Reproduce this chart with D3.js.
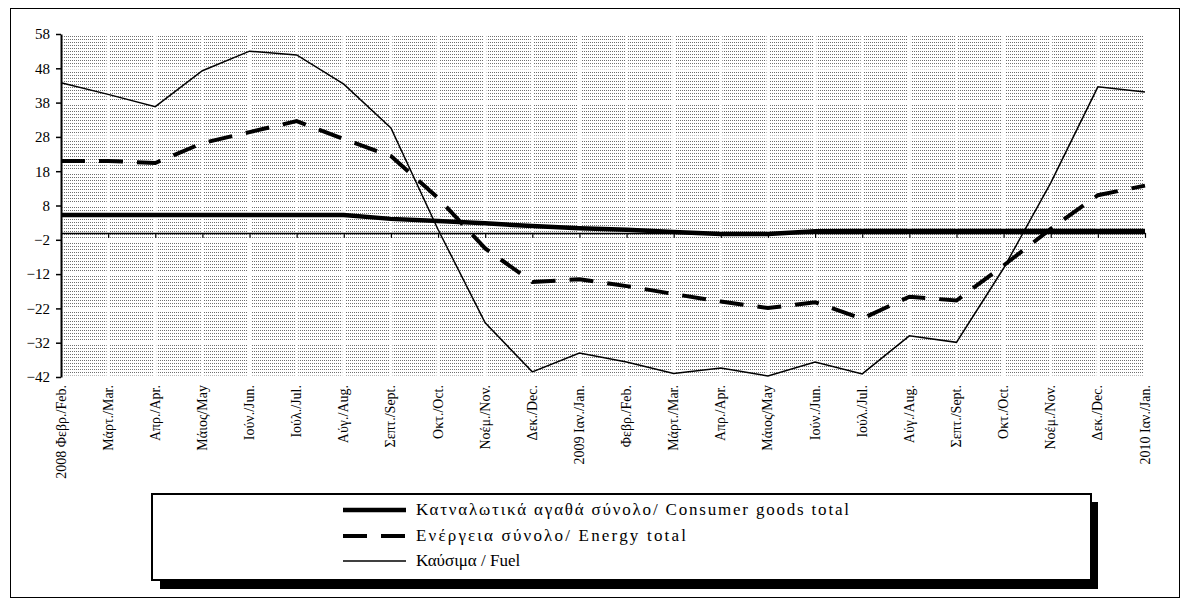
<!DOCTYPE html>
<html><head><meta charset="utf-8">
<script src="https://cdn.jsdelivr.net/npm/d3@7"></script>
<style>html,body{margin:0;padding:0;background:#fff;}svg{display:block;}</style>
</head><body>
<svg id="chart" width="1187" height="605"></svg>
<script>
const categories = ["2008 Φεβρ./Feb.","Μάρτ./Mar.","Απρ./Apr.","Μάιος/May","Ιούν./Jun.","Ιούλ./Jul.","Αύγ./Aug.","Σεπτ./Sept.","Οκτ./Oct.","Νοέμ./Nov.","Δεκ./Dec.","2009 Ιαν./Jan.","Φεβρ./Feb.","Μάρτ./Mar.","Απρ./Apr.","Μάιος/May","Ιούν./Jun.","Ιούλ./Jul.","Αύγ./Aug.","Σεπτ./Sept.","Οκτ./Oct.","Νοέμ./Nov.","Δεκ./Dec.","2010 Ιαν./Jan."];
const consumer = [5.2,5.2,5.2,5.2,5.2,5.2,5.2,4.1,3.5,2.8,2.0,1.4,0.9,0.3,-0.3,-0.3,0.5,0.6,0.6,0.6,0.6,0.6,0.6,0.6];
const energy = [21,21,20.4,26.2,29.4,32.6,27.4,22.4,10.2,-4.5,-14.3,-13.5,-15.5,-17.8,-20,-21.9,-20.2,-25,-18.6,-19.7,-9.5,1.2,11,13.8];
const fuel = [43.8,40.4,36.8,47.3,53,51.9,43.4,30.6,1,-26.2,-40.5,-35,-37.6,-41,-39.4,-41.7,-37.6,-41.1,-30,-31.9,-10.3,14.6,42.6,41.1];
const yTicks = [58,48,38,28,18,8,-2,-12,-22,-32,-42];
const seriesNames = ["Κατναλωτικά αγαθά σύνολο/ Consumer goods total","Ενέργεια σύνολο/ Energy total","Καύσιμα / Fuel"];

const svg = d3.select("#chart");
const serif = "'Liberation Serif','DejaVu Serif',serif";
const L = 61, R = 1145, T = 34, B = 377;

// outer border
svg.append("rect").attr("x",10.5).attr("y",8.5).attr("width",1169).attr("height",589)
  .attr("fill","none").attr("stroke","#000").attr("stroke-width",1);

const idx = d3.range(categories.length);
const x = d3.scalePoint().domain(idx).range([L,R]).padding(0);
const y = d3.scaleLinear().domain([-42,58]).range([B,T]);

// dotted pattern
const defs = svg.append("defs");
const pat = defs.append("pattern").attr("id","dots").attr("patternUnits","userSpaceOnUse")
  .attr("width",2).attr("height",3);
pat.append("rect").attr("width",2).attr("height",3).attr("fill","#fff");
pat.append("rect").attr("x",0).attr("y",0).attr("width",1).attr("height",1).attr("fill","#6e6e6e");

svg.append("rect").attr("x",L).attr("y",T).attr("width",R-L).attr("height",B-T).attr("fill","url(#dots)");

// white gridlines
svg.append("g").selectAll("line").data(idx).join("line")
  .attr("x1",d=>x(d)).attr("x2",d=>x(d)).attr("y1",T).attr("y2",B)
  .attr("stroke","#fff").attr("stroke-width",3);
svg.append("g").selectAll("line").data(yTicks).join("line")
  .attr("x1",L).attr("x2",R).attr("y1",d=>y(d)).attr("y2",d=>y(d))
  .attr("stroke","#fff").attr("stroke-width",3);

// y axis
const yAxis = d3.axisLeft(y).tickValues(yTicks).tickSize(5).tickSizeOuter(0).tickPadding(6);
const gy = svg.append("g").attr("transform",`translate(${L},0)`).call(yAxis);
gy.select(".domain").attr("stroke","#000").attr("stroke-width",2);
gy.selectAll(".tick line").attr("stroke","#000").attr("stroke-width",1.5);
gy.selectAll("text").attr("font-family",serif).attr("font-size",15).attr("fill","#000");

// x axis at 0
const xAxis = d3.axisBottom(x).tickSize(5).tickSizeOuter(0).tickFormat("");
const gx = svg.append("g").attr("transform",`translate(0,${y(0)})`).call(xAxis);
gx.select(".domain").attr("stroke","#000").attr("stroke-width",1.5);
gx.selectAll(".tick line").attr("stroke","#000").attr("stroke-width",1.2);

// x labels
svg.append("g").selectAll("text").data(idx).join("text")
  .attr("transform",d=>`translate(${x(d)+4.5},385) rotate(-90)`)
  .attr("text-anchor","end").attr("font-family",serif).attr("font-size",14).attr("fill","#000")
  .text(d=>categories[d]);

// lines
const line = d3.line().x((d,i)=>x(i)).y(d=>y(d));
svg.append("path").datum(fuel).attr("d",line).attr("fill","none").attr("stroke","#000").attr("stroke-width",1.5);
svg.append("path").datum(energy).attr("d",line).attr("fill","none").attr("stroke","#000").attr("stroke-width",4)
  .attr("stroke-dasharray","24,14");
svg.append("path").datum(consumer).attr("d",line).attr("fill","none").attr("stroke","#000").attr("stroke-width",4.5);

// legend
const lg = svg.append("g");
lg.append("rect").attr("x",160).attr("y",502).attr("width",938).attr("height",87).attr("fill","#000");
lg.append("rect").attr("x",152).attr("y",494).attr("width",939).attr("height",86).attr("fill","#fff")
  .attr("stroke","#000").attr("stroke-width",2);
const rows = [510,536,561];
const widths = [433,270,null];
const styles = [{w:4.5,dash:null},{w:4,dash:"24,14"},{w:1.5,dash:null}];
seriesNames.forEach((n,i)=>{
  const l = lg.append("line").attr("x1",343).attr("x2",406).attr("y1",rows[i]).attr("y2",rows[i])
    .attr("stroke","#000").attr("stroke-width",styles[i].w);
  if(styles[i].dash) l.attr("stroke-dasharray",styles[i].dash);
  const t = lg.append("text").attr("x",416).attr("y",rows[i]+5).attr("font-family",serif).attr("font-size",17)
    .attr("fill","#000").text(n);
  if(widths[i]) t.attr("textLength",widths[i]).attr("lengthAdjust","spacing");
});
</script>
</body></html>
